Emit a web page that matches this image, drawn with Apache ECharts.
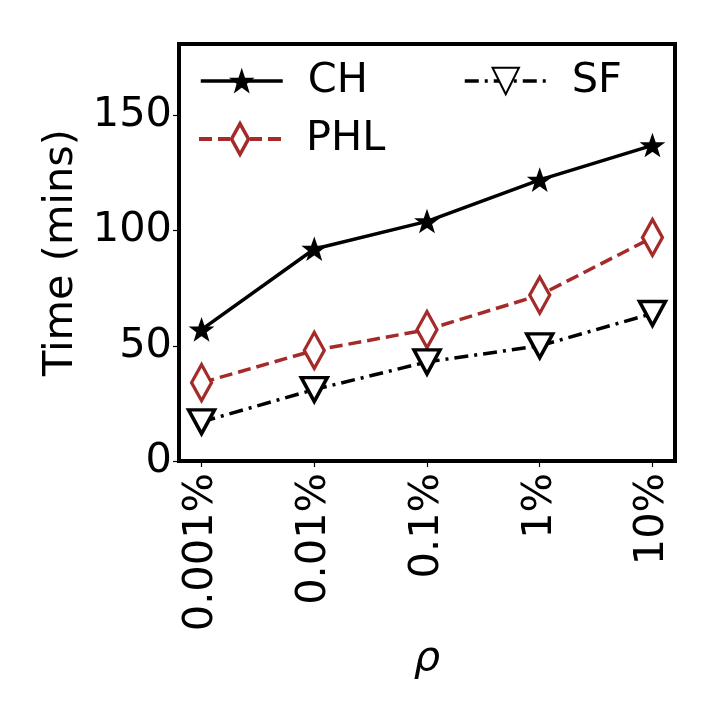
<!DOCTYPE html>
<html>
<head>
<meta charset="utf-8">
<script src="https://cdn.jsdelivr.net/npm/echarts@6/dist/echarts.min.js"></script>
<style>
    html, body {margin: 0; padding: 0; background: #fff;}
    #chart {width: 720px; height: 720px;}
</style>
</head>
<body>
<div id="chart"></div>
<script>
// values
const rhoLabels = ['0.001%', '0.01%', '0.1%', '1%', '10%'];
const chTimes = [57, 92, 104, 122, 137];
const phlTimes = [34, 48, 57, 72, 97];
const sfTimes = [17, 31, 43, 50, 64];
const yTicks = [0, 50, 100, 150];

const FONT = 'DejaVu Sans';
const FS = 41.5;
const starPath = 'path://M0,-10L2.35,-3.24L9.51,-3.09L3.8,1.24L5.88,8.09L0,4L-5.88,8.09L-3.8,1.24L-9.51,-3.09L-2.35,-3.24Z';
// legend icon for PHL: dashes plus a hollow thin diamond (outer cw, inner ccw = hole)
const phlLegendIcon = 'path://M0,18L13,18L13,22L0,22Z M19,18L31,18L31,22L19,22Z' +
    ' M51,18L63,18L63,22L51,22Z M69,18L82,18L82,22L69,22Z' +
    ' M41,1L51.5,20L41,39L30.5,20Z M41,8.2L34.5,20L41,31.8L47.5,20Z';

function toPoints(vals) {
    return vals.map((v, i) => [i, v]);
}

// one legend per entry so each keeps its own marker size
function legendEntry(item, left, top, itemHeight) {
    return {
        left: left, top: top, orient: 'vertical',
        itemWidth: 82, itemHeight: itemHeight,
        data: [item],
        lineStyle: {width: 3.5},
        textStyle: {fontSize: FS, color: '#000', fontFamily: FONT, padding: [0, 0, 0, 20]}
    };
}

let chart = echarts.init(document.getElementById('chart'));

chart.setOption({
    animation: false,
    backgroundColor: '#fff',
    textStyle: {fontFamily: FONT},
    grid: {
        left: 179, right: 45, top: 44, bottom: 259,
        show: true, borderColor: '#000', borderWidth: 4, backgroundColor: 'transparent'
    },
    legend: [
        legendEntry('CH', 194, 55, 25),
        legendEntry({name: 'PHL', icon: phlLegendIcon, itemStyle: {color: '#a52a2a', borderWidth: 0}}, 194, 113, 38),
        legendEntry('SF', 458, 55, 33)
    ],
    xAxis: {
        type: 'value', min: -0.2, max: 4.2,
        name: 'ρ', nameLocation: 'middle', nameGap: 176,
        nameTextStyle: {fontSize: FS, fontStyle: 'italic', color: '#000'},
        splitLine: {show: false},
        axisLine: {show: false, onZero: false},
        axisTick: {show: true, length: 6, lineStyle: {color: '#000', width: 1.2}, customValues: [0, 1, 2, 3, 4]},
        axisLabel: {
            fontSize: FS, color: '#000', rotate: 90, margin: 12,
            customValues: [0, 1, 2, 3, 4],
            formatter: v => rhoLabels[Math.round(v)]
        }
    },
    yAxis: {
        type: 'value', min: 0, max: 181,
        name: 'Time (mins)', nameLocation: 'middle', nameGap: 87,
        nameTextStyle: {fontSize: FS, color: '#000'},
        splitLine: {show: false},
        axisLine: {show: false, onZero: false},
        axisTick: {show: true, length: 6, lineStyle: {color: '#000', width: 1.2}, customValues: yTicks},
        axisLabel: {fontSize: FS, color: '#000', margin: 7, customValues: yTicks}
    },
    series: [{
        name: 'CH', type: 'line',
        data: toPoints(chTimes),
        symbol: starPath, symbolSize: 20, symbolKeepAspect: true,
        itemStyle: {color: '#000', borderColor: '#000', borderWidth: 2},
        lineStyle: {color: '#000', width: 3.5}
    }, {
        name: 'PHL', type: 'line',
        data: toPoints(phlTimes),
        symbol: 'diamond', symbolSize: [20, 36],
        itemStyle: {color: '#fff', borderColor: '#a52a2a', borderWidth: 3.5},
        lineStyle: {color: '#a52a2a', width: 3.5, type: [13, 6]}
    }, {
        name: 'SF', type: 'line',
        data: toPoints(sfTimes),
        symbol: 'triangle', symbolRotate: 180, symbolSize: [26, 24],
        itemStyle: {color: '#fff', borderColor: '#000', borderWidth: 3.5},
        lineStyle: {color: '#000', width: 3.5, type: [14, 6, 3, 6]}
    }]
});
</script>
</body>
</html>
